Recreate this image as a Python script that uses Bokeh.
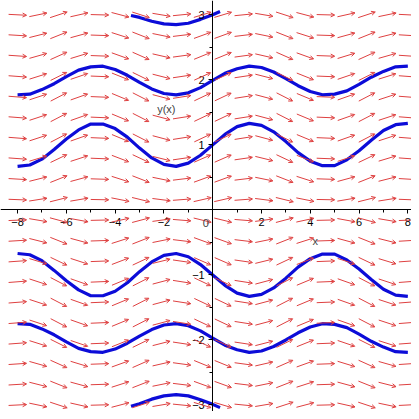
import math
from bokeh.plotting import figure
from bokeh.models import ColumnDataSource, Arrow, OpenHead, Label, FixedTicker
from bokeh.embed import file_html
from bokeh.resources import INLINE

# ---- data ----
curve_x = [-8, -7.5, -7, -6.5, -6, -5.5, -5, -4.5, -4, -3.5, -3, -2.5, -2, -1.5, -1, -0.5,
           0, 0.5, 1, 1.5, 2, 2.5, 3, 3.5, 4, 4.5, 5, 5.5, 6, 6.5, 7, 7.5, 8]
curve_a = [0.67, 0.69, 0.78, 0.93, 1.09, 1.23, 1.32, 1.32, 1.25, 1.12, 0.95, 0.80, 0.70, 0.67,
           0.72, 0.84, 1.00, 1.16, 1.28, 1.33, 1.30, 1.20, 1.05, 0.88, 0.75, 0.68, 0.68, 0.77,
           0.91, 1.07, 1.22, 1.31, 1.33]
curve_b = [1.77, 1.78, 1.85, 1.94, 2.05, 2.15, 2.20, 2.21, 2.16, 2.07, 1.96, 1.86, 1.79, 1.77,
           1.80, 1.88, 1.99, 2.10, 2.17, 2.21, 2.19, 2.12, 2.02, 1.91, 1.82, 1.77, 1.78, 1.83,
           1.93, 2.04, 2.13, 2.20, 2.21]
curve_d = [-0.67, -0.69, -0.78, -0.93, -1.09, -1.23, -1.32, -1.32, -1.25, -1.12, -0.95, -0.80,
           -0.70, -0.67, -0.72, -0.84, -1.00, -1.16, -1.28, -1.33, -1.30, -1.20, -1.05, -0.88,
           -0.75, -0.68, -0.68, -0.77, -0.91, -1.07, -1.22, -1.31, -1.33]
curve_e = [-1.75, -1.76, -1.83, -1.92, -2.03, -2.13, -2.18, -2.19, -2.14, -2.05, -1.94, -1.84,
           -1.77, -1.75, -1.78, -1.86, -1.97, -2.08, -2.15, -2.19, -2.17, -2.10, -2.00, -1.89,
           -1.80, -1.75, -1.76, -1.81, -1.91, -2.02, -2.11, -2.18, -2.19]
short_x = [-3.35, -3.0, -2.5, -2.0, -1.5, -1.0, -0.5, 0.0, 0.3]
curve_c = [2.99, 2.96, 2.90, 2.86, 2.85, 2.87, 2.93, 3.00, 3.05]
curve_f = [-3.02, -2.98, -2.91, -2.86, -2.84, -2.86, -2.92, -2.99, -3.04]

# direction field: column factor and row gain (screen slope = col * row)
field_cols = [-0.15, 0.63, 1.0, 0.68, -0.08, -0.80, -0.98, -0.51, 0.30, 0.91,
              0.91, 0.30, -0.51, -0.98, -0.80, -0.08, 0.68, 1.0, 0.63, -0.15]
field_rows = [-0.33, -0.40, -0.45, -0.50, -0.52, -0.52, -0.52, -0.48, -0.40, -0.27,
              0.25, 0.40, 0.48, 0.52, 0.52, 0.52, 0.50, 0.45, 0.40, 0.33]
x_ticks = [-8, -6, -4, -2, 0, 2, 4, 6, 8]
y_ticks = [-3, -2, -1, 1, 2, 3]

X0, X1 = -8.70, 8.15
Y0, Y1 = -3.10, 3.22
W = H = 411
pxx = W / (X1 - X0)
pxy = H / (Y1 - Y0)

p = figure(width=W, height=H, x_range=(X0, X1), y_range=(Y0, Y1),
           output_backend="svg", toolbar_location=None, min_border=0)
p.outline_line_color = None
p.grid.visible = False
p.background_fill_color = "white"

# arrows
nx, ny = len(field_cols), len(field_rows)
gx = [-8 + 16 * i / (nx - 1) for i in range(nx)]
gy = [-3 + 6 * j / (ny - 1) for j in range(ny)]
half = 9.0
xs0, ys0, xs1, ys1 = [], [], [], []
for i, cx in enumerate(gx):
    for j, cy in enumerate(gy):
        th = math.atan(field_cols[i] * field_rows[j])
        dx = half * math.cos(th) / pxx
        dy = half * math.sin(th) / pxy
        xs0.append(cx - dx); ys0.append(cy - dy)
        xs1.append(cx + dx); ys1.append(cy + dy)
src = ColumnDataSource(dict(x0=xs0, y0=ys0, x1=xs1, y1=ys1))
red = "#de4040"
p.add_layout(Arrow(source=src, x_start="x0", y_start="y0", x_end="x1", y_end="y1",
                   line_color=red, line_width=1,
                   end=OpenHead(size=4, line_color=red, line_width=1)))

blue = "#0c0cd8"
for ys in (curve_a, curve_b, curve_d, curve_e):
    p.line(curve_x, ys, line_color=blue, line_width=3.2)
for ys in (curve_c, curve_f):
    p.line(short_x, ys, line_color=blue, line_width=3.2)

# axes through origin
for ax in (p.xaxis[0], p.yaxis[0]):
    ax.fixed_location = 0
    ax.axis_line_color = "black"
    ax.major_tick_line_color = "black"
    ax.minor_tick_line_color = "black"
    ax.major_tick_in = 0
    ax.major_tick_out = 4
    ax.minor_tick_in = 0
    ax.minor_tick_out = 3
    ax.major_label_text_font = "Liberation Sans"
    ax.major_label_text_font_size = "11px"
    ax.major_label_text_color = "black"
p.xaxis[0].ticker = FixedTicker(ticks=x_ticks, minor_ticks=list(range(-8, 9)))
p.yaxis[0].ticker = FixedTicker(ticks=y_ticks, minor_ticks=[-2.5, -1.5, -0.5, 0.5, 1.5, 2.5])
p.xaxis[0].major_label_overrides = {0: ""}
p.xaxis[0].major_label_standoff = 4
p.yaxis[0].major_label_standoff = 4
p.yaxis[0].major_label_orientation = "horizontal"

p.add_layout(Label(x=0, y=0, x_offset=-7, y_offset=-13, text="0",
                   text_align="center", text_baseline="middle",
                   text_font="Liberation Sans", text_font_size="11px"))
p.add_layout(Label(x=-1.9, y=1.55, text="y(x)", text_align="center", text_baseline="middle",
                   text_font="Liberation Sans", text_font_size="11px"))
p.add_layout(Label(x=4.2, y=-0.48, text="x", text_align="center", text_baseline="middle",
                   text_font="Liberation Sans", text_font_size="11px"))

open("out.html", "w").write(file_html(p, INLINE))
